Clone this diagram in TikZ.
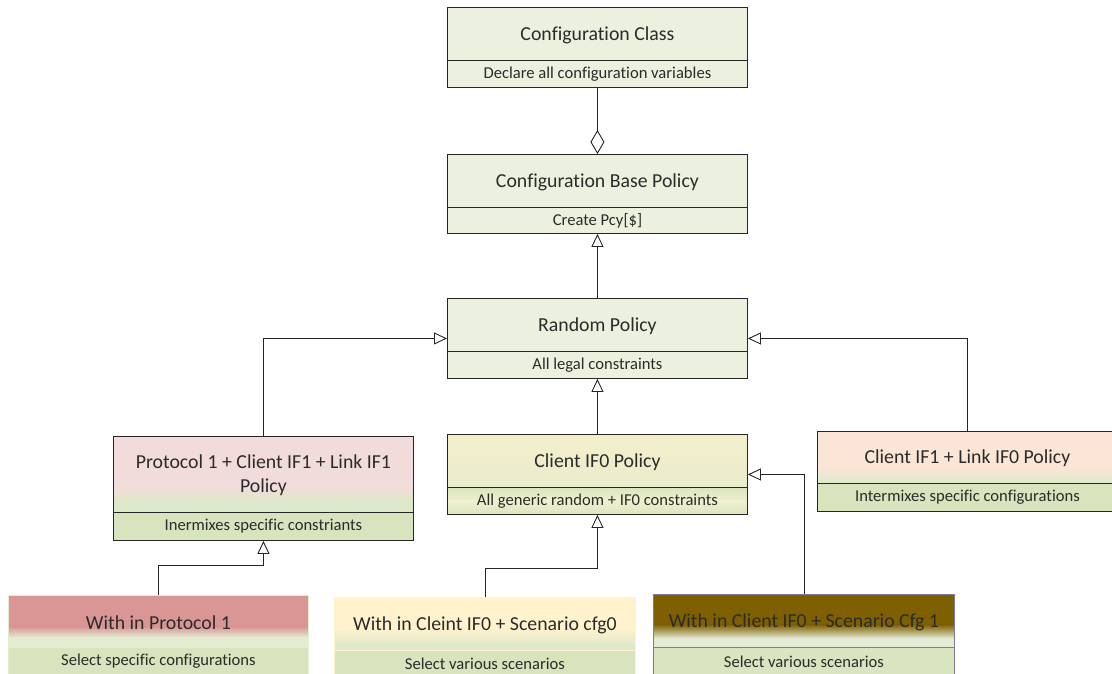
\documentclass[tikz,border=0pt]{standalone}
\usepackage{fontspec}
\setmainfont{Carlito}[Ligatures=NoCommon]
\usetikzlibrary{arrows.meta,calc}

% palette
\definecolor{linec}{HTML}{262626}
\definecolor{textc}{HTML}{2B2B2B}
\definecolor{paleg}{HTML}{EBF1DE}
\definecolor{rowg}{HTML}{D7E4BD}
\definecolor{pinkc}{HTML}{F2DCDB}
\definecolor{pinkg}{HTML}{DDE8CA}
\definecolor{yelc}{HTML}{F4EFCA}
\definecolor{yelg}{HTML}{E4EBD0}
\definecolor{peachc}{HTML}{FBE5D6}
\definecolor{peachg}{HTML}{E1EACD}
\definecolor{rosec}{HTML}{D99694}
\definecolor{roseg}{HTML}{E3EBD1}
\definecolor{creamc}{HTML}{FFF2CC}
\definecolor{creamg}{HTML}{E0E9CB}
\definecolor{brownc}{HTML}{7F6000}
\definecolor{browng}{HTML}{E5ECD6}
\definecolor{lilac}{HTML}{7E7A9A}

\tikzset{
  x=1pt, y=1pt,
  % solid colour band on top, then a fade into the lower colour
  fade/.style n args={4}{path picture={
    \fill[#1] (path picture bounding box.north west) rectangle ([yshift=-#3pt]path picture bounding box.north east);
    \shade[top color=#1, bottom color=#2] ([yshift=-#3pt]path picture bounding box.north west) rectangle ([yshift=-#4pt]path picture bounding box.north east);
    \fill[#2] ([yshift=-#4pt]path picture bounding box.north west) rectangle (path picture bounding box.south east);
  }},
  boxbase/.style={draw=linec, line width=0.9pt, inner sep=0pt},
  titletext/.style={text=textc, font=\fontsize{19.8}{24}\selectfont, align=center, inner sep=0pt, yshift=-1.5pt},
  rowtext/.style={text=textc, font=\fontsize{16.6}{19}\selectfont},
  % one frame style and one row style per colour scheme
  plain frame/.style={boxbase, fill=paleg},
  plain row/.style={boxbase, rowtext, fill=paleg},
  pink frame/.style={boxbase, fade={pinkc}{pinkg}{50}{64}},
  pink row/.style={boxbase, rowtext, fill=rowg},
  yellow frame/.style={boxbase, shade, top color=yelc, bottom color=yelg},
  yellow row/.style={boxbase, rowtext, shade, top color=rowg!90!yelc, bottom color=rowg!90!yelc, middle color=yelc!70!paleg},
  peach frame/.style={boxbase, fade={peachc}{peachg}{35}{50}},
  peach row/.style={boxbase, rowtext, fill=rowg},
  rose frame/.style={boxbase, draw=roseg, fade={rosec}{roseg}{31}{42}},
  rose row/.style={boxbase, rowtext, draw=roseg, fill=rowg},
  cream frame/.style={boxbase, draw=creamc, fade={creamc}{creamg}{31}{47}},
  cream row/.style={boxbase, rowtext, draw=creamc, fill=rowg},
  brown frame/.style={boxbase, draw=lilac, fade={brownc}{browng}{30}{44}},
  brown row/.style={boxbase, rowtext, draw=lilac, fill=rowg!85!browng},
  conn/.style={draw=linec, line width=0.9pt},
  inherit/.style={conn, -{Triangle[open, length=13pt, width=12pt]}},
  aggregate/.style={conn, -{Diamond[open, length=24pt, width=14pt]}},
}

% #1 name, #2 scheme, #3 left, #4 top, #5 width, #6 height, #7 row height, #8 title, #9 row text
\newcommand\classbox[9]{%
  \node[#2 frame, minimum width=#5pt, minimum height=#6pt, anchor=north west] (#1) at (#3,#4) {};
  \node[#2 row, minimum width=#5pt, minimum height=#7pt, anchor=south] (#1-s) at (#1.south) {#9};
  \node[titletext] (#1-t) at ($(#1.north)!0.5!(#1-s.north)$) {#8};
}

\begin{document}
\begin{tikzpicture}
  \path[use as bounding box, fill=white] (0,0) rectangle (1112,-673);

  \classbox{cfg}{plain}{447}{-7}{300}{80}{27}{Configuration Class}{Declare all configuration variables}
  \classbox{base}{plain}{447}{-154}{300}{79}{26}{Configuration Base Policy}{Create Pcy[\$]}
  \classbox{rnd}{plain}{447}{-298}{300}{80}{27}{Random Policy}{All legal constraints}
  \classbox{prot}{pink}{113}{-436}{300}{104}{28}{Protocol 1 + Client IF1 + Link IF1\\Policy}{Inermixes specific constriants}
  \classbox{if0}{yellow}{447}{-434}{300}{80}{27}{Client IF0 Policy}{All generic random + IF0 constraints}
  \classbox{if1}{peach}{817}{-431}{300}{80}{28}{Client IF1 + Link IF0 Policy}{Intermixes specific configurations}
  \classbox{p1}{rose}{8}{-595}{300}{80}{28}{With in Protocol 1}{Select specific configurations}
  \classbox{c0}{cream}{334}{-597}{301}{80}{27}{With in Cleint IF0 + Scenario cfg0}{Select various scenarios}
  \classbox{c1}{brown}{653}{-594}{301}{81}{28}{With in Client IF0 + Scenario Cfg 1}{Select various scenarios}

  % relations
  \draw[aggregate] (cfg.south) -- (base.north);
  \draw[inherit] (rnd.north) -- (base.south);
  \draw[inherit] (prot.north) |- (rnd.west);
  \draw[inherit] (if1.north) |- (rnd.east);
  \draw[inherit] (if0.north) -- (rnd.south);
  \draw[inherit] (p1.north) -- ++(0,30) -| (prot.south);
  \draw[inherit] (c0.north) -- ++(0,29) -| (if0.south);
  \draw[inherit] (c1.north) |- (if0.east);
\end{tikzpicture}
\end{document}
